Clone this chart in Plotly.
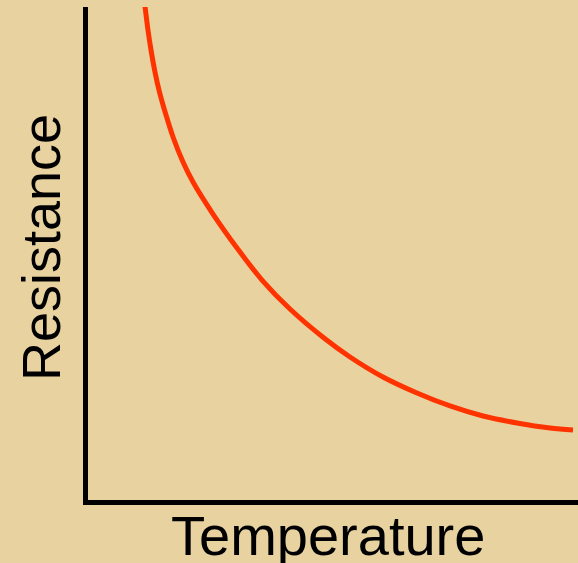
import plotly.graph_objects as go

# Data (arbitrary units, 0-100)
temperature = [11.63, 12.24, 12.86, 13.67, 14.49, 15.92, 17.35, 19.39, 21.43, 25.51, 30.41, 35.51,
               41.22, 48.16, 53.47, 60.20, 67.14, 73.88, 80.61, 87.55, 94.29, 98.98]
resistance = [100.20, 95.33, 91.28, 86.82, 83.16, 78.09, 73.63, 68.56, 64.50, 58.01, 51.12, 44.62,
              38.74, 32.86, 29.01, 24.95, 21.70, 19.07, 17.04, 15.62, 14.60, 14.20]

x_title = "Temperature"
y_title = "Resistance"

bg = "#e8d3a0"
font_family = "Liberation Sans, Arial, sans-serif"

fig = go.Figure()
fig.add_trace(go.Scatter(
    x=temperature, y=resistance, mode="lines",
    line=dict(color="#ff3300", width=5, shape="spline", smoothing=1.0),
    hoverinfo="skip", showlegend=False,
))

fig.update_layout(
    width=578, height=563,
    margin=dict(l=88, r=0, t=7, b=63),
    paper_bgcolor=bg, plot_bgcolor=bg,
    xaxis=dict(range=[0, 100], showgrid=False, zeroline=False, showticklabels=False,
               ticks="", showline=True, linecolor="black", linewidth=5, fixedrange=True),
    yaxis=dict(range=[0, 100], showgrid=False, zeroline=False, showticklabels=False,
               ticks="", showline=True, linecolor="black", linewidth=5, fixedrange=True),
    annotations=[
        dict(text=x_title, xref="paper", yref="paper", x=0.4888, y=-0.071,
             xanchor="center", yanchor="middle", showarrow=False,
             font=dict(family=font_family, size=56, color="black")),
        dict(text=y_title, xref="paper", yref="paper", x=-0.0959, y=0.511,
             xanchor="center", yanchor="middle", textangle=-90, showarrow=False,
             font=dict(family=font_family, size=54, color="black")),
    ],
)

fig.write_html("out.html", config={"displayModeBar": False},
               post_script="document.body.style.margin='0';document.body.style.background='%s';" % bg)
